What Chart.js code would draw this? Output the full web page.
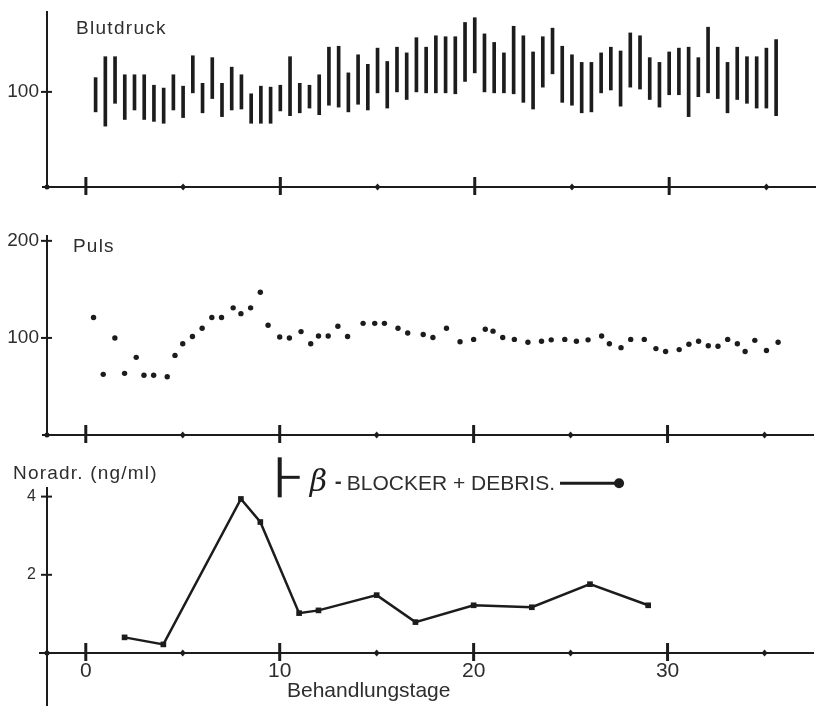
<!DOCTYPE html>
<html>
<head>
<meta charset="utf-8">
<title>Blutdruck, Puls, Noradrenalin</title>
<script src="https://cdn.jsdelivr.net/npm/chart.js@4.4.1/dist/chart.umd.min.js"></script>
<style>
  body { margin: 0; background: #fff; }
  #wrap { position: relative; width: 817px; height: 706px; overflow: hidden; background: #fff; }
  canvas { position: absolute; left: 0; }
</style>
</head>
<body>
<div id="wrap">
  <canvas id="bp" width="817" height="200" style="top:0"></canvas>
  <canvas id="puls" width="817" height="240" style="top:210px"></canvas>
  <canvas id="nora" width="817" height="256" style="top:450px"></canvas>
</div>
<script>
//---------- DATEN
const dayMin = -2, dayMax = 37.5
const majorDays = [0, 10, 20, 30]
const minorDays = [5, 15, 25, 35]

// Blutdruck: 2 Messungen pro Tag, unten / oben
const bpDays = [0.5, 1, 1.5, 2, 2.5, 3, 3.5, 4, 4.5, 5, 5.5, 6, 6.5, 7, 7.5, 8, 8.5, 9, 9.5, 10,
  10.5, 11, 11.5, 12, 12.5, 13, 13.5, 14, 14.5, 15, 15.5, 16, 16.5, 17, 17.5, 18, 18.5, 19, 19.5, 20,
  20.5, 21, 21.5, 22, 22.5, 23, 23.5, 24, 24.5, 25, 25.5, 26, 26.5, 27, 27.5, 28, 28.5, 29, 29.5, 30,
  30.5, 31, 31.5, 32, 32.5, 33, 33.5, 34, 34.5, 35, 35.5]
const bpLow = [79, 64, 88, 71, 81, 71, 69, 67, 81, 73, 99, 78, 93, 74, 81, 82, 67, 67, 67, 80,
  75, 78, 83, 76, 86, 84, 79, 87, 81, 99, 83, 100, 92, 100, 99, 99, 99, 98, 111, 120,
  100, 99, 99, 98, 89, 82, 105, 119, 89, 86, 78, 79, 99, 102, 85, 105, 103, 92, 84, 97,
  97, 74, 95, 99, 93, 78, 92, 88, 83, 83, 75]
const bpHigh = [115, 137, 137, 118, 118, 118, 107, 104, 118, 106, 138, 109, 136, 109, 126, 118, 98, 106, 105, 107,
  137, 109, 107, 118, 147, 148, 120, 139, 129, 146, 132, 147, 141, 157, 147, 159, 158, 158, 173, 178,
  161, 152, 141, 169, 159, 142, 158, 167, 148, 139, 131, 131, 141, 147, 143, 162, 159, 136, 131, 142,
  146, 147, 136, 168, 147, 131, 147, 137, 137, 146, 155]
const bpTicks = [100]

// Puls
const pulsDays = [0.4, 0.9, 1.5, 2.0, 2.6, 3.0, 3.5, 4.2, 4.6, 5.0, 5.5, 6.0, 6.5, 7.0, 7.6, 8.0, 8.5, 9.0, 9.4, 10.0,
  10.5, 11.1, 11.6, 12.0, 12.5, 13.0, 13.5, 14.3, 14.9, 15.4, 16.1, 16.6, 17.4, 17.9, 18.6, 19.3, 20.0, 20.6, 21.0, 21.5,
  22.1, 22.8, 23.5, 24.0, 24.7, 25.3, 25.9, 26.6, 27.0, 27.6, 28.1, 28.8, 29.4, 29.9, 30.6, 31.1, 31.6, 32.1, 32.6, 33.1,
  33.6, 34.0, 34.5, 35.1, 35.7]
const pulsVals = [121, 62.5, 100, 63.5, 80, 61.5, 61.5, 60, 82, 94, 101.5, 110, 121, 121, 131, 125, 131, 147, 113, 101,
  100, 106.5, 94, 102, 102, 112, 101.5, 115, 115, 115, 110, 105, 103.5, 100.5, 110, 96, 98.5, 109, 107, 100.5,
  98.5, 95.5, 96.5, 98, 98.5, 96.5, 98, 102, 94, 90, 98.5, 98.5, 89, 86, 88, 93.5, 96.5, 92, 91.5, 98.5,
  94, 86, 97.5, 87, 95.5]
const pulsTicks = [100, 200]

// Noradrenalin (ng/ml)
const noraDays = [2, 4, 8, 9, 11, 12, 15, 17, 20, 23, 26, 29]
const noraVals = [0.4, 0.22, 3.94, 3.35, 1.02, 1.09, 1.48, 0.79, 1.22, 1.17, 1.76, 1.22]
const noraTicks = [2, 4]

// Behandlung
const betaStart = 10, betaEnd = 27.5, betaLevel = 4.34
const betaText = 'BLOCKER + DEBRIS.'

//---------- STIL
const ink = '#1c1c1c'
const textInk = '#2e2e2e'
const FONT = "'Liberation Sans', Arial, sans-serif"

function line(ctx, x1, y1, x2, y2) {
  ctx.beginPath(); ctx.moveTo(x1, y1); ctx.lineTo(x2, y2); ctx.stroke()
}

// Achsenmarken + Texte
const panelMarks = {
  id: 'panelMarks',
  afterDraw(chart, args, o) {
    const { ctx, chartArea: a } = chart
    const xs = chart.scales.x, ys = chart.scales.y
    const y0 = a.bottom
    ctx.save()
    ctx.strokeStyle = ink
    ctx.fillStyle = ink
    ctx.lineWidth = 2
    line(ctx, a.left - o.over, y0, a.left, y0)
    if (o.extendDown) line(ctx, a.left, y0, a.left, chart.height)
    ctx.beginPath(); ctx.arc(a.left, y0, 2.5, 0, Math.PI * 2); ctx.fill()

    ctx.lineWidth = 3
    majorDays.forEach(d => {
      const px = xs.getPixelForValue(d)
      line(ctx, px, y0 - 10, px, y0 + 8)
    })
    minorDays.forEach(d => {
      const px = xs.getPixelForValue(d)
      ctx.beginPath()
      ctx.moveTo(px, y0 - 3.5); ctx.lineTo(px + 3, y0); ctx.lineTo(px, y0 + 3.5); ctx.lineTo(px - 3, y0)
      ctx.closePath(); ctx.fill()
    })
    ctx.lineWidth = 2
    o.yTicks.forEach(v => {
      const py = ys.getPixelForValue(v)
      line(ctx, a.left - 6, py, a.left + 5, py)
    })

    ctx.fillStyle = textInk
    ctx.textBaseline = 'alphabetic'
    o.texts.forEach(t => {
      ctx.font = t.size + 'px ' + FONT
      ctx.letterSpacing = (t.spacing || 0) + 'px'
      ctx.fillText(t.text, t.x, t.y)
    })
    ctx.restore()
  }
}

// Beta-Blocker Markierung
const betaNote = {
  id: 'betaNote',
  afterDraw(chart) {
    const { ctx } = chart
    const xs = chart.scales.x, ys = chart.scales.y
    const x0 = xs.getPixelForValue(betaStart)
    const x1 = xs.getPixelForValue(betaEnd)
    const yl = ys.getPixelForValue(betaLevel)
    ctx.save()
    ctx.strokeStyle = ink
    ctx.fillStyle = ink
    ctx.lineWidth = 4
    line(ctx, x0, yl - 26, x0, yl + 14)
    ctx.lineWidth = 3
    line(ctx, x0, yl - 6, x0 + 20, yl - 6)

    ctx.textBaseline = 'alphabetic'
    ctx.font = 'italic 30px "DejaVu Serif", serif'
    ctx.fillText('β', x0 + 30, yl + 8)
    ctx.fillStyle = textInk
    ctx.font = 'bold 21px ' + FONT
    ctx.fillText('-', x0 + 55, yl + 5)
    ctx.font = '21px ' + FONT
    ctx.fillText(betaText, x0 + 67, yl + 7)
    const tw = ctx.measureText(betaText).width
    ctx.lineWidth = 3
    line(ctx, x0 + 67 + tw + 5, yl, x1, yl)
    ctx.fillStyle = ink
    ctx.beginPath(); ctx.arc(x1, yl, 5, 0, Math.PI * 2); ctx.fill()
    ctx.restore()
  }
}

function xScale(height, showLabels) {
  return {
    type: 'linear', min: dayMin, max: dayMax, offset: false,
    grid: { display: false, drawTicks: false, offset: false },
    border: { display: true, color: ink, width: 2 },
    ticks: {
      display: showLabels, color: textInk, padding: 6,
      font: { family: FONT, size: 21 }
    },
    afterBuildTicks: s => { s.ticks = majorDays.map(v => ({ value: v })) },
    afterFit: s => { s.height = height; s.paddingLeft = 0; s.paddingRight = 0 }
  }
}

function yScale(min, max, ticks, size, pad) {
  return {
    type: 'linear', min: min, max: max,
    grid: { display: false, drawTicks: false },
    border: { display: true, color: ink, width: 2 },
    ticks: { color: textInk, padding: pad, font: { family: FONT, size: size } },
    afterBuildTicks: s => { s.ticks = ticks.map(v => ({ value: v })) },
    afterFit: s => { s.width = 47; s.paddingTop = 0; s.paddingBottom = 0 }
  }
}

function baseOptions(padTop) {
  return {
    responsive: false, animation: false, devicePixelRatio: 1, events: [],
    layout: { padding: { top: padTop, right: 2, left: 0, bottom: 0 } },
    plugins: { legend: { display: false }, tooltip: { enabled: false } }
  }
}

//---------- BLUTDRUCK
let optBp = baseOptions(12)
optBp.scales = { x: xScale(13, false), y: yScale(0, 184, bpTicks, 19, 8) }
optBp.plugins.panelMarks = { over: 5, yTicks: bpTicks, texts: [{ text: 'Blutdruck', x: 76, y: 34, size: 19, spacing: 1.3 }] }
new Chart(document.getElementById('bp'), {
  type: 'bar',
  data: {
    datasets: [{
      data: bpDays.map((d, i) => ({ x: d, y: [bpLow[i], bpHigh[i]] })),
      backgroundColor: ink, borderWidth: 0, barThickness: 3
    }]
  },
  options: optBp,
  plugins: [panelMarks]
})

//---------- PULS
let optPuls = baseOptions(26)
optPuls.scales = { x: xScale(15, false), y: yScale(0, 205, pulsTicks, 19, 8) }
optPuls.plugins.panelMarks = { over: 5, yTicks: pulsTicks, texts: [{ text: 'Puls', x: 73, y: 42, size: 19, spacing: 1.2 }] }
new Chart(document.getElementById('puls'), {
  type: 'scatter',
  data: {
    datasets: [{
      data: pulsDays.map((d, i) => ({ x: d, y: pulsVals[i] })),
      pointRadius: 2.7, pointBackgroundColor: ink, pointBorderWidth: 0
    }]
  },
  options: optPuls,
  plugins: [panelMarks]
})

//---------- NORADRENALIN
let optNora = baseOptions(38)
optNora.scales = { x: xScale(53, true), y: yScale(0, 4.22, noraTicks, 16, 11) }
optNora.plugins.panelMarks = {
  over: 8, yTicks: noraTicks, extendDown: true,
  texts: [
    { text: 'Noradr. (ng/ml)', x: 13, y: 29, size: 19, spacing: 1.2 },
    { text: 'Behandlungstage', x: 287, y: 247, size: 21, spacing: 0 }
  ]
}
new Chart(document.getElementById('nora'), {
  type: 'line',
  data: {
    datasets: [{
      data: noraDays.map((d, i) => ({ x: d, y: noraVals[i] })),
      borderColor: ink, borderWidth: 2.5, tension: 0,
      pointStyle: 'rect', pointRadius: 4, pointBackgroundColor: ink, pointBorderWidth: 0
    }]
  },
  options: optNora,
  plugins: [panelMarks, betaNote]
})
</script>
</body>
</html>
